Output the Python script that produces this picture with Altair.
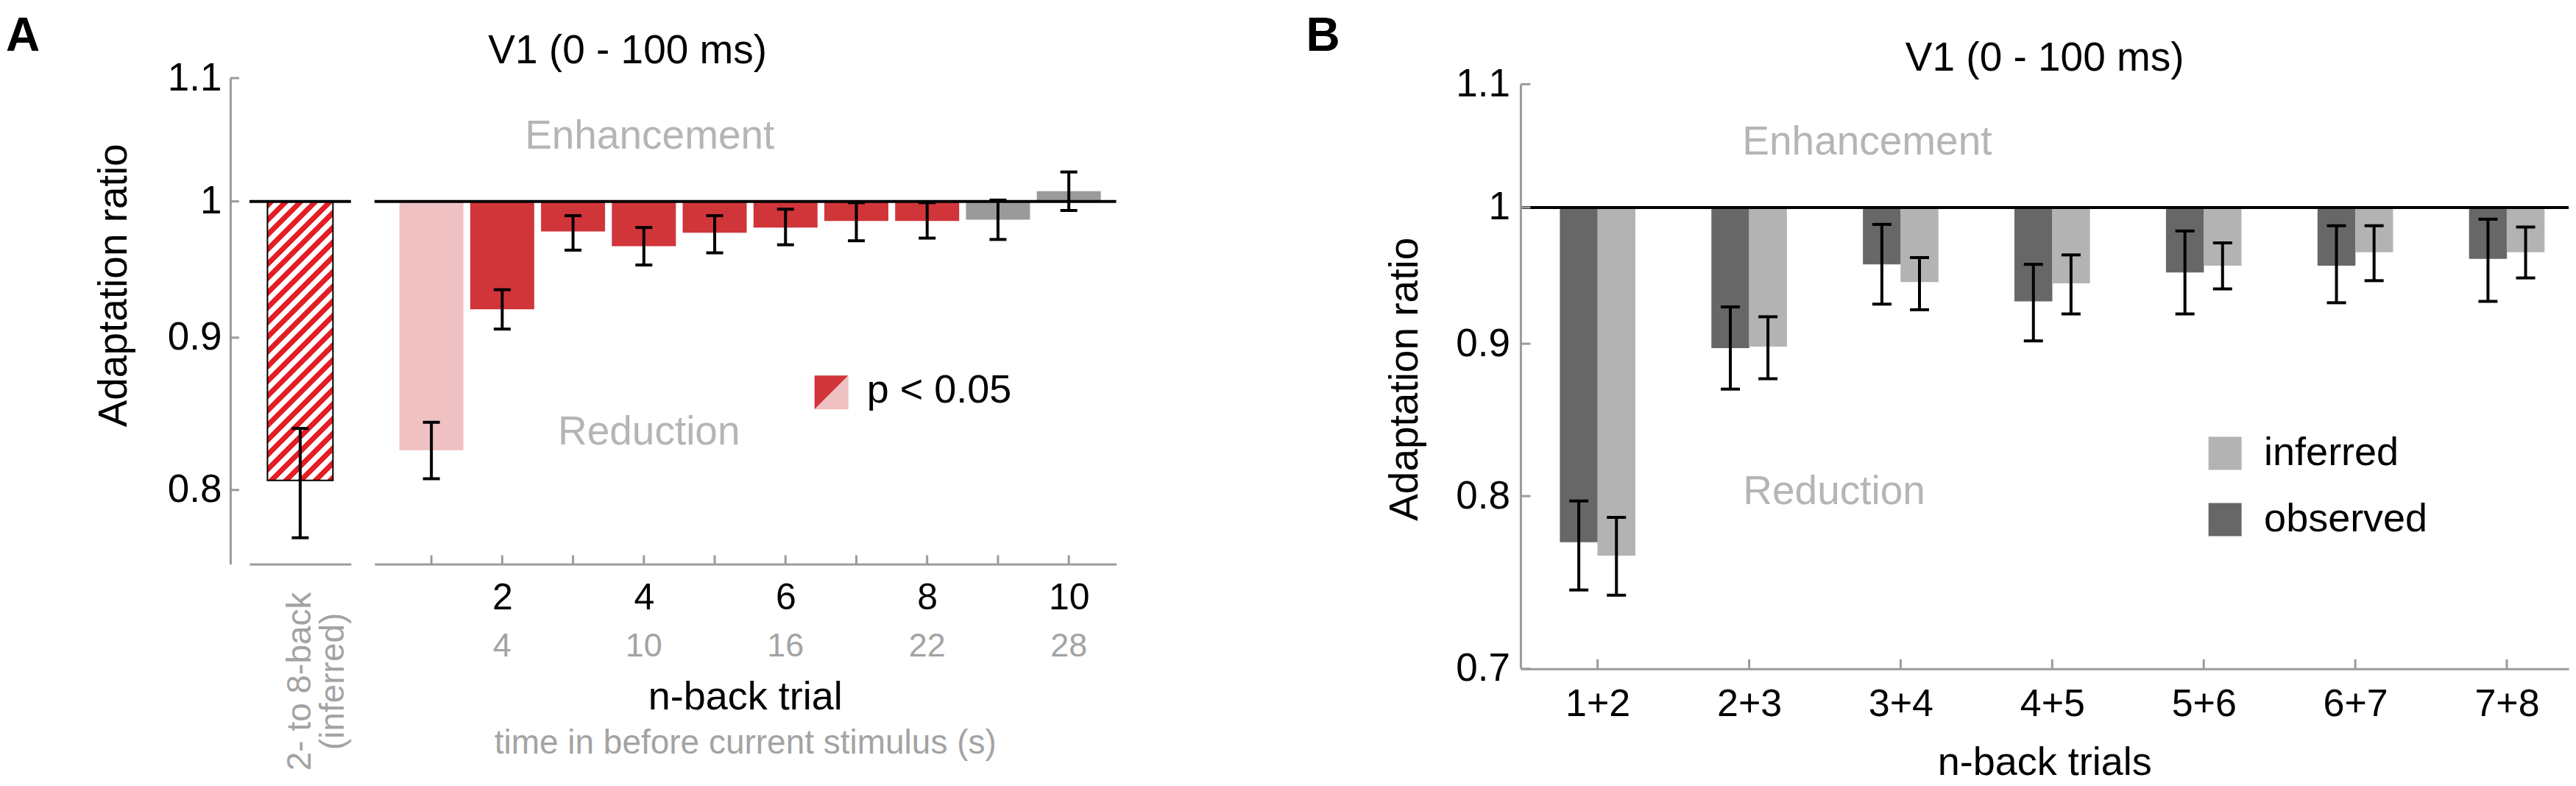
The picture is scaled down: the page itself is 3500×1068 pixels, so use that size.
import math
import json
import altair as alt
import pandas as pd

FONT = "Liberation Sans, Arial, Helvetica, sans-serif"
BLACK = "#000000"
AXIS_GRAY = "#9b9b9b"
TEXT_GRAY = "#a3a3a3"
NOTE_GRAY = "#b5b5b5"
RED = "#d0353a"
PINK = "#f0c1c2"
HATCH_RED = "#e41e26"
BAR_GRAY = "#9a9a9a"
DARK = "#676767"
LIGHT = "#b3b3b3"

# ---------------- data ----------------
a_trials = [1, 2, 3, 4, 5, 6, 7, 8, 9, 10]
a_ratio = [0.825, 0.920, 0.977, 0.966, 0.976, 0.980, 0.985, 0.985, 0.986, 1.008]
a_err_lo = [0.807, 0.906, 0.963, 0.952, 0.961, 0.967, 0.970, 0.972, 0.971, 0.993]
a_err_hi = [0.843, 0.934, 0.989, 0.980, 0.989, 0.994, 0.999, 0.999, 1.001, 1.023]
a_status = ["pale", "sig", "sig", "sig", "sig", "sig", "sig", "sig", "ns", "ns"]
a_label_trials = [2, 4, 6, 8, 10]
a_time_s = [4, 10, 16, 22, 28]
a_tick_trials = [1, 2, 3, 4, 5, 6, 7, 8, 9, 10]
inferred_label = ["2- to 8-back\n(inferred)"]
inferred_ratio = [0.806]
inferred_lo = [0.771]
inferred_hi = [0.839]
a_y_ticks = [0.8, 0.9, 1.0, 1.1]

b_pairs = ["1+2", "2+3", "3+4", "4+5", "5+6", "6+7", "7+8"]
b_observed = [0.772, 0.897, 0.957, 0.930, 0.951, 0.956, 0.961]
b_observed_lo = [0.744, 0.869, 0.928, 0.902, 0.921, 0.929, 0.930]
b_observed_hi = [0.797, 0.926, 0.987, 0.957, 0.982, 0.986, 0.991]
b_inferred = [0.764, 0.898, 0.944, 0.943, 0.956, 0.966, 0.966]
b_inferred_lo = [0.741, 0.876, 0.924, 0.921, 0.939, 0.945, 0.947]
b_inferred_hi = [0.787, 0.919, 0.962, 0.964, 0.973, 0.986, 0.985]
b_y_ticks = [0.7, 0.8, 0.9, 1.0, 1.1]

df_a = pd.DataFrame({"trial": a_trials, "ratio": a_ratio, "lo": a_err_lo,
                     "hi": a_err_hi, "status": a_status})
df_a_time = pd.DataFrame({"trial": a_label_trials, "time": a_time_s})
df_a_ticks = pd.DataFrame({"trial": a_tick_trials})
df_inf = pd.DataFrame({"label": inferred_label, "ratio": inferred_ratio,
                       "lo": inferred_lo, "hi": inferred_hi})
df_ayt = pd.DataFrame({"tick": a_y_ticks})
rows = []
for i, p in enumerate(b_pairs):
    rows.append({"pair": p, "type": "observed", "ratio": b_observed[i],
                 "lo": b_observed_lo[i], "hi": b_observed_hi[i]})
    rows.append({"pair": p, "type": "inferred", "ratio": b_inferred[i],
                 "lo": b_inferred_lo[i], "hi": b_inferred_hi[i]})
df_b = pd.DataFrame(rows)
df_bxt = pd.DataFrame({"pair": b_pairs})
df_byt = pd.DataFrame({"tick": b_y_ticks})
ONE = pd.DataFrame({"k": [0]})

# ---------------- layout ----------------
PX_PER_LN = 1758.0
A_H = 660.5
A_Y_LO = 1.1 * math.exp(-A_H / PX_PER_LN)
B_EXTRA = 8.3
B_Y_HI = 1.1 * math.exp(B_EXTRA / PX_PER_LN)
B_Y_LO = 0.7
B_H = PX_PER_LN * math.log(B_Y_HI / B_Y_LO)
A_LEFT_W, A_RIGHT_W, B_W = 138, 1008, 1424
B_STEP = 207.4
B_FIRST = 100.0
B_BAR = 51.5
B_OFF = (B_BAR / 2) / B_STEP

ysA = alt.Scale(type="log", domain=[A_Y_LO, 1.1], nice=False)
ysB = alt.Scale(type="log", domain=[B_Y_LO, B_Y_HI], nice=False)
xsA = alt.Scale(domain=[0.249, 10.617], nice=False, zero=False)
xsB = alt.Scale(domain=[-B_FIRST / B_STEP, (B_W - B_FIRST) / B_STEP], nice=False, zero=False)
pairs_js = json.dumps(b_pairs)


def note(text, x, y, size, color=BLACK, align="center", weight="normal", angle=0):
    return alt.Chart(ONE).mark_text(
        text=text, fontSize=size, font=FONT, color=color, align=align,
        baseline="alphabetic", fontWeight=weight, angle=angle
    ).encode(x=alt.value(x), y=alt.value(y))


def unity_rule():
    return alt.Chart(ONE).transform_calculate(one="1").mark_rule(
        color=BLACK, strokeWidth=4).encode(y=alt.Y("one:Q", title=None))


# hatched fill: striped linear gradient giving 45-degree stripes on the bar
bw = 89.0
bh = PX_PER_LN * math.log(1.0 / inferred_ratio[0])
cg = (bw + bh) / (bw * bw + bh * bh)
period = 20.0
nper = (bw + bh) / period
stops = []
k = 0
while k / nper < 1.0:
    o1 = k / nper
    o2 = min((k + 0.5) / nper, 1.0)
    o3 = min((k + 1.0) / nper, 1.0)
    stops += [alt.GradientStop(offset=o1, color=HATCH_RED),
              alt.GradientStop(offset=o2, color=HATCH_RED),
              alt.GradientStop(offset=o2, color="#ffffff"),
              alt.GradientStop(offset=o3, color="#ffffff")]
    k += 1
hatch = alt.LinearGradient(gradient="linear", stops=stops, x1=0, y1=0,
                           x2=cg * bw, y2=cg * bh)

# ---------------- panel A, left (inferred) ----------------
xL = alt.X("label:N", title=None,
           scale=alt.Scale(paddingInner=0, paddingOuter=0),
           axis=alt.Axis(labelExpr="split(datum.label, '\\n')", labelAngle=270,
                         labelAlign="center", labelBaseline="middle",
                         labelColor=TEXT_GRAY, labelFontSize=46, labelPadding=159,
                         labelLineHeight=45, labelLimit=600, domainColor=AXIS_GRAY,
                         domainWidth=3, ticks=False))
xL2 = alt.X("label:N", title=None, scale=alt.Scale(paddingInner=0, paddingOuter=0))
inf_base = alt.Chart(df_inf).transform_calculate(one="1")

a_left_bar = inf_base.mark_bar(size=89, fill=hatch, stroke=BLACK,
                               strokeWidth=2).encode(
    x=xL,
    y=alt.Y("ratio:Q", scale=ysA, title=None,
            axis=alt.Axis(values=a_y_ticks, format="~g", offset=26,
                          domainColor=AXIS_GRAY, domainWidth=3, ticks=False,
                          labelFontSize=53, labelPadding=12, labelColor=BLACK)),
    y2="one:Q",
)
a_left_err = inf_base.mark_rule(color=BLACK, strokeWidth=4).encode(
    x=xL2, y=alt.Y("lo:Q", title=None), y2="hi:Q")
a_left_cap_lo = inf_base.mark_tick(orient="horizontal", size=23, thickness=4,
                                   color=BLACK, opacity=1).encode(
    x=xL2, y=alt.Y("lo:Q", title=None))
a_left_cap_hi = inf_base.mark_tick(orient="horizontal", size=23, thickness=4,
                                   color=BLACK, opacity=1).encode(
    x=xL2, y=alt.Y("hi:Q", title=None))
a_left_yt = alt.Chart(df_ayt).mark_rule(color=AXIS_GRAY, strokeWidth=3).encode(
    y=alt.Y("tick:Q", title=None), x=alt.value(-26), x2=alt.value(-14))

a_left = alt.layer(
    a_left_bar, unity_rule(), a_left_err, a_left_cap_lo, a_left_cap_hi, a_left_yt,
    note("A", -331, -37, 64, weight="bold", align="left"),
    note("Adaptation ratio", -167, 281.8, 55, angle=270),
).properties(width=A_LEFT_W, height=A_H)

# ---------------- panel A, right (n-back) ----------------
a_base = alt.Chart(df_a).transform_calculate(one="1")
a_bars = a_base.mark_bar(size=87).encode(
    x=alt.X("trial:Q", scale=xsA, title=None,
            axis=alt.Axis(values=a_label_trials, format="d", labelFontSize=50,
                          labelPadding=21, labelColor=BLACK, domainColor=AXIS_GRAY,
                          domainWidth=3, ticks=False, grid=False)),
    y=alt.Y("ratio:Q", scale=ysA, axis=None),
    y2="one:Q",
    color=alt.Color("status:N", legend=None,
                    scale=alt.Scale(domain=["pale", "sig", "ns"],
                                    range=[PINK, RED, BAR_GRAY])),
)
xA2 = alt.X("trial:Q", title=None)
a_err = a_base.mark_rule(color=BLACK, strokeWidth=4).encode(
    x=xA2, y=alt.Y("lo:Q", axis=None), y2="hi:Q")
a_cap_lo = a_base.mark_tick(orient="horizontal", size=23, thickness=4,
                            color=BLACK, opacity=1).encode(
    x=xA2, y=alt.Y("lo:Q", axis=None))
a_cap_hi = a_base.mark_tick(orient="horizontal", size=23, thickness=4,
                            color=BLACK, opacity=1).encode(
    x=xA2, y=alt.Y("hi:Q", axis=None))
a_xt = alt.Chart(df_a_ticks).mark_rule(color=AXIS_GRAY, strokeWidth=3).encode(
    x=xA2, y=alt.value(A_H), y2=alt.value(A_H - 12))
a_time = alt.Chart(df_a_time).mark_text(fontSize=45, font=FONT, color=TEXT_GRAY,
                                        baseline="alphabetic").encode(
    x=xA2, y=alt.value(786), text="time:Q")
a_one = alt.Chart(ONE).transform_calculate(one="1").mark_rule(
    color=BLACK, strokeWidth=4).encode(y=alt.Y("one:Q", axis=None))
tri_hi = alt.Chart(ONE).mark_point(shape="M-1,-1L1,-1L-1,1Z", size=2116, filled=True,
                                   color=RED, opacity=1, strokeWidth=0).encode(
    x=alt.value(621), y=alt.value(427.3))
tri_lo = alt.Chart(ONE).mark_point(shape="M1,-1L1,1L-1,1Z", size=2116, filled=True,
                                   color=PINK, opacity=1, strokeWidth=0).encode(
    x=alt.value(621), y=alt.value(427.3))

a_right = alt.layer(
    a_bars, a_one, a_err, a_cap_lo, a_cap_hi, a_xt, a_time, tri_hi, tri_lo,
    note("V1 (0 - 100 ms)", 344, -19.7, 55),
    note("Enhancement", 374, 96.3, 55, NOTE_GRAY),
    note("Reduction", 373, 498.3, 55, NOTE_GRAY),
    note("p < 0.05", 669, 441.3, 54, align="left"),
    note("n-back trial", 504, 858.3, 54),
    note("time in before current stimulus (s)", 504, 918, 46, TEXT_GRAY),
).properties(width=A_RIGHT_W, height=A_H)

# ---------------- panel B ----------------
pos_expr = (f"indexof({pairs_js}, datum.pair) + "
            f"(datum.type == 'observed' ? {-B_OFF} : {B_OFF})")
b_base = alt.Chart(df_b).transform_calculate(pos=pos_expr, one="1")
xB2 = alt.X("pos:Q", title=None)

b_bars = b_base.mark_bar(size=B_BAR).encode(
    x=alt.X("pos:Q", scale=xsB, title=None,
            axis=alt.Axis(values=list(range(len(b_pairs))),
                          labelExpr=f"{pairs_js}[datum.value]",
                          labelFontSize=52, labelPadding=23, labelColor=BLACK,
                          domainColor=AXIS_GRAY, domainWidth=3, ticks=False,
                          grid=False)),
    y=alt.Y("ratio:Q", scale=ysB, title=None,
            axis=alt.Axis(values=b_y_ticks, format="~g", domain=False, ticks=False,
                          labelFontSize=53, labelPadding=15, labelColor=BLACK)),
    y2="one:Q",
    color=alt.Color("type:N",
                    scale=alt.Scale(domain=["inferred", "observed"], range=[LIGHT, DARK]),
                    legend=alt.Legend(orient="none", legendX=930, legendY=483, title=None,
                                      symbolType="square", symbolSize=2025,
                                      symbolStrokeWidth=0, symbolOpacity=1,
                                      labelFontSize=54, labelFont=FONT,
                                      labelColor=BLACK, labelOffset=26,
                                      rowPadding=36, padding=0, labelLimit=500)),
)
b_err = b_base.mark_rule(color=BLACK, strokeWidth=4).encode(
    x=xB2, y=alt.Y("lo:Q", title=None), y2="hi:Q")
b_cap_lo = b_base.mark_tick(orient="horizontal", size=26, thickness=4,
                            color=BLACK, opacity=1).encode(
    x=xB2, y=alt.Y("lo:Q", title=None))
b_cap_hi = b_base.mark_tick(orient="horizontal", size=26, thickness=4,
                            color=BLACK, opacity=1).encode(
    x=xB2, y=alt.Y("hi:Q", title=None))
b_yline = alt.Chart(ONE).transform_calculate(top="1.1", bot=str(B_Y_LO)).mark_rule(
    color=AXIS_GRAY, strokeWidth=3).encode(
    x=alt.value(0), y=alt.Y("top:Q", title=None), y2="bot:Q")
b_yt = alt.Chart(df_byt).mark_rule(color=AXIS_GRAY, strokeWidth=3).encode(
    y=alt.Y("tick:Q", title=None), x=alt.value(0), x2=alt.value(13))
b_xt = alt.Chart(df_bxt).transform_calculate(
    pos=f"indexof({pairs_js}, datum.pair)"
).mark_rule(color=AXIS_GRAY, strokeWidth=3).encode(
    x=xB2, y=alt.value(B_H), y2=alt.value(B_H - 13))

b_panel = alt.layer(
    b_bars, unity_rule(), b_err, b_cap_lo, b_cap_hi, b_yline, b_yt, b_xt,
    note("B", -292, -37, 64, weight="bold", align="left"),
    note("V1 (0 - 100 ms)", 712, -9.7, 55),
    note("Enhancement", 301, 104.3, 55, NOTE_GRAY, align="left"),
    note("Reduction", 302, 579.3, 55, NOTE_GRAY, align="left"),
    note("n-back trials", 712, 947, 54),
    note("Adaptation ratio", -140, 409.3, 55, angle=270),
).properties(width=B_W, height=B_H)

panel_a = alt.hconcat(a_left, a_right, spacing=28)
chart = alt.hconcat(panel_a, b_panel, spacing=256).resolve_scale(
    color="independent"
).properties(
    padding={"top": 10, "left": 0, "right": 0, "bottom": 0}, background="white"
).configure_view(stroke=None).configure_axis(
    grid=False, labelFont=FONT, titleFont=FONT
)

chart.save("out.html", embed_options={"renderer": "svg", "actions": False})
